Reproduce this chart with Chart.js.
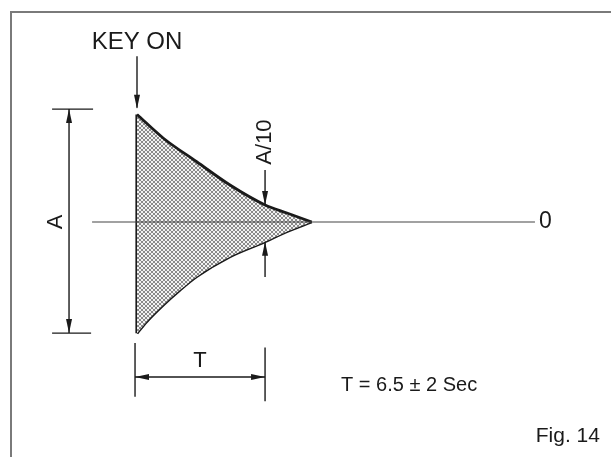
<!DOCTYPE html>
<html>
<head>
<meta charset="utf-8">
<title>Fig. 14 - Key on decay</title>
<script src="https://cdn.jsdelivr.net/npm/chart.js@4.4.1/dist/chart.umd.min.js"></script>
<style>
  html, body { margin: 0; padding: 0; background: #fff; overflow: hidden; }
  #wrap { position: relative; width: 611px; height: 457px; }
  #frame {
    position: absolute; left: 10px; top: 11px; width: 700px; height: 600px;
    border-left: 2px solid #7a7a7a; border-top: 2px solid #7a7a7a;
  }
  #decayChart { position: absolute; left: 0; top: 0; }
</style>
</head>
<body>
<div id="wrap">
  <div id="frame"></div>
  <canvas id="decayChart" width="611" height="457"></canvas>
</div>
<script>
// Envelope: time in seconds, amplitude as a fraction of A (peak to peak)
const upperTime = [0, 1.34, 3.03, 4.72, 6.5, 7.61, 8.87]
const upperAmp = [0.48, 0.374, 0.269, 0.165, 0.076, 0.04, 0]
const lowerTime = [0, 0.49, 1.34, 2.18, 3.03, 4.72, 6.5, 7.6, 8.87]
const lowerAmp = [-0.497, -0.445, -0.37, -0.304, -0.244, -0.155, -0.088, -0.043, 0]
const zeroSpan = [-2.28, 20.2]
const decayTime = 6.5 // T
const ink = "#1a1a1a"
const font = (size) => size + 'px "Liberation Sans", Arial, Helvetica, sans-serif'

function toPoints(times, values) {
  return times.map((t, i) => ({ x: t, y: values[i] }))
}

// grey cross hatch like the printed fill
function hatch() {
  const p = document.createElement("canvas")
  p.width = 4
  p.height = 4
  const g = p.getContext("2d")
  g.fillStyle = "#f2f2f2"
  g.fillRect(0, 0, 4, 4)
  g.fillStyle = "#8a8a8a"
  for (let i = 0; i < 4; i++) {
    g.fillRect(i, i, 1, 1)
    g.fillRect(3 - i, i, 1, 1)
  }
  return g.createPattern(p, "repeat")
}

function arrow(ctx, x, y, dir) {
  const len = 14, half = 3
  ctx.beginPath()
  ctx.moveTo(x, y)
  if (dir === "down") { ctx.lineTo(x - half, y - len); ctx.lineTo(x + half, y - len) }
  if (dir === "up") { ctx.lineTo(x - half, y + len); ctx.lineTo(x + half, y + len) }
  if (dir === "left") { ctx.lineTo(x + len, y - half); ctx.lineTo(x + len, y + half) }
  if (dir === "right") { ctx.lineTo(x - len, y - half); ctx.lineTo(x - len, y + half) }
  ctx.closePath()
  ctx.fill()
}

function line(ctx, x1, y1, x2, y2) {
  ctx.beginPath()
  ctx.moveTo(x1, y1)
  ctx.lineTo(x2, y2)
  ctx.stroke()
}

function label(ctx, text, x, y, size, align, rotate) {
  ctx.save()
  ctx.translate(x, y)
  if (rotate) ctx.rotate(-Math.PI / 2)
  ctx.font = font(size)
  ctx.textAlign = align || "center"
  ctx.textBaseline = "middle"
  ctx.fillText(text, 0, 0)
  ctx.restore()
}

// dimension lines, arrows and texts around the envelope
const figureNotes = {
  id: "figureNotes",
  afterDatasetsDraw(chart) {
    const { ctx, scales } = chart
    const px = (v) => scales.x.getPixelForValue(v)
    const py = (v) => scales.y.getPixelForValue(v)
    ctx.save()
    ctx.strokeStyle = ink
    ctx.fillStyle = ink
    ctx.lineWidth = 1.4

    // KEY ON
    label(ctx, "KEY ON", px(0), py(0.8), 24)
    line(ctx, px(0), py(0.74), px(0), py(0.51))
    arrow(ctx, px(0), py(0.505), "down")

    // A
    const ax = px(-3.45)
    line(ctx, px(-4.31), py(0.504), px(-2.23), py(0.504))
    line(ctx, px(-4.31), py(-0.496), px(-2.33), py(-0.496))
    line(ctx, ax, py(0.504), ax, py(-0.496))
    arrow(ctx, ax, py(0.504), "up")
    arrow(ctx, ax, py(-0.496), "down")
    label(ctx, "A", px(-4.1), py(0), 22, "center", true)

    // A/10 at t = T
    const tx = px(decayTime)
    line(ctx, tx, py(0.232), tx, py(upperAmp[4]))
    arrow(ctx, tx, py(upperAmp[4]), "down")
    line(ctx, tx, py(lowerAmp[6]), tx, py(-0.246))
    arrow(ctx, tx, py(lowerAmp[6]), "up")
    label(ctx, "A/10", tx, py(0.357), 22, "center", true)

    // T
    const left = px(-0.1)
    line(ctx, left, py(-0.54), left, py(-0.78))
    line(ctx, tx, py(-0.56), tx, py(-0.8))
    line(ctx, left, py(-0.692), tx, py(-0.692))
    arrow(ctx, left, py(-0.692), "left")
    arrow(ctx, tx, py(-0.692), "right")
    label(ctx, "T", (left + tx) / 2, py(-0.62), 22)

    label(ctx, "0", px(20.4), py(0), 23, "left")
    label(ctx, "T = 6.5 \u00b1 2 Sec", px(10.36), py(-0.728), 20, "left")
    label(ctx, "Fig. 14", px(23.5), py(-0.955), 21, "right")
    ctx.restore()
  },
}

const ctx = document.getElementById("decayChart").getContext("2d")
const decayChart = new Chart(ctx, {
  type: "scatter",
  data: {
    datasets: [
      {
        label: "zero",
        data: toPoints(zeroSpan, [0, 0]),
        showLine: true,
        borderColor: "#444",
        borderWidth: 1.2,
        pointRadius: 0,
        fill: false,
      },
      {
        label: "upper",
        data: toPoints(upperTime, upperAmp),
        showLine: true,
        borderColor: ink,
        borderWidth: 2.8,
        pointRadius: 0,
        cubicInterpolationMode: "monotone",
        fill: "+1",
        backgroundColor: hatch(),
      },
      {
        label: "lower",
        data: toPoints(lowerTime, lowerAmp),
        showLine: true,
        borderColor: ink,
        borderWidth: 2.8,
        pointRadius: 0,
        cubicInterpolationMode: "monotone",
        fill: false,
      },
      {
        label: "key on",
        data: toPoints([0, 0], [upperAmp[0], lowerAmp[0]]),
        showLine: true,
        borderColor: ink,
        borderWidth: 3.2,
        pointRadius: 0,
        fill: false,
      },
    ],
  },
  options: {
    responsive: false,
    animation: false,
    layout: { padding: 0 },
    plugins: { legend: { display: false }, tooltip: { enabled: false } },
    scales: {
      x: { type: "linear", display: false, min: -6.954, max: 24.06 },
      y: { type: "linear", display: false, min: -1.049, max: 0.991 },
    },
  },
  plugins: [figureNotes],
})
</script>
</body>
</html>
